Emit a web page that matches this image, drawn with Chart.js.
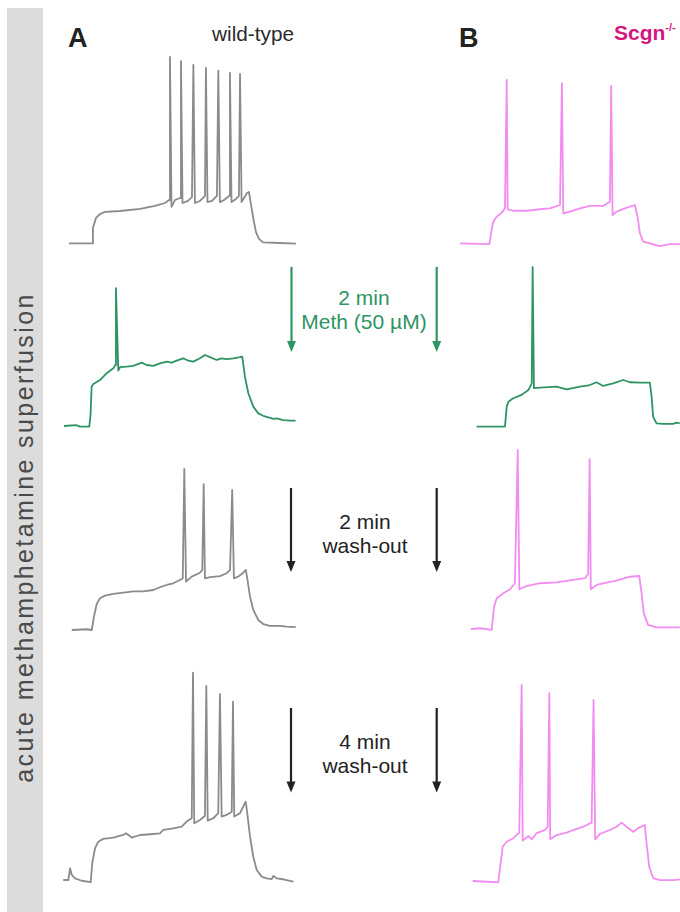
<!DOCTYPE html>
<html>
<head>
<meta charset="utf-8">
<script src="https://cdn.jsdelivr.net/npm/chart.js@4.4.1/dist/chart.umd.min.js"></script>
<style>
  body { margin: 0; width: 680px; height: 912px; position: relative; overflow: hidden; background: #fff;
         font-family: "Liberation Sans", Arial, Helvetica, sans-serif; }
  canvas.trace { position: absolute; }
  .lbl { position: absolute; white-space: nowrap; line-height: 1; }
  .step { position: absolute; width: 160px; text-align: center; color: #222; font-size: 21px; line-height: 24px; }
</style>
</head>
<body>
<div style="position:absolute;left:7px;top:8px;width:36px;height:904px;background:#dbdcdb"></div>
<div class="lbl" style="left:-226px;top:525px;width:500px;text-align:center;font-size:25px;letter-spacing:2.4px;color:#4a4a4a;transform:rotate(-90deg)">acute methamphetamine superfusion</div>

<div class="lbl" style="left:68px;top:24.6px;font-size:27px;font-weight:bold;color:#222">A</div>
<div class="lbl" style="left:212px;top:23.5px;font-size:20.8px;color:#2a2a2a">wild-type</div>
<div class="lbl" style="left:459px;top:24.6px;font-size:27px;font-weight:bold;color:#222">B</div>
<div class="lbl" style="left:614px;top:22.2px;font-size:21px;font-weight:bold;color:#d4177f">Scgn<span style="font-size:11px;position:relative;top:-9px">-/-</span></div>

<div class="step" style="left:284px;top:286px;color:#2e9463">2 min<br>Meth (50 µM)</div>
<div class="step" style="left:285px;top:510px">2 min<br>wash-out</div>
<div class="step" style="left:285px;top:730px">4 min<br>wash-out</div>

<svg width="680" height="912" style="position:absolute;left:0;top:0">
  <g id="arrows"></g>
</svg>

<script>
// membrane potential traces, time in ms from current step onset, potential in mV
const traceNames = ['A1', 'A2', 'A3', 'A4', 'B1', 'B2', 'B3', 'B4'];

const a1T = [-148, 0, 6, 26, 52, 84, 181, 310, 406, 471, 497, 503, 513, 535, 568, 574, 584, 619, 645, 654, 664, 697, 729, 735, 745, 774, 806, 815, 825, 852, 884, 890, 900, 929, 948, 955, 965, 981, 1000, 1013, 1026, 1045, 1058, 1077, 1103, 1213, 1316];
const a1V = [-70.2, -70.2, -61.9, -56.5, -54.4, -53.3, -52.8, -51.7, -50.1, -48.5, -46.9, 30.1, -50.6, -46.9, -45.8, 27.8, -48.5, -47.4, -45.3, 25.8, -48.5, -47.4, -44.7, 24.2, -48, -47.4, -44.7, 22.7, -48, -46.9, -44.7, 21.5, -48, -46.3, -44.7, 20.9, -48, -45.8, -43.1, -42.6, -49.6, -58.7, -64.1, -67.8, -69.7, -70, -70.3];

const a2T = [-163, -86, -60, 0, 8, 15, 26, 69, 112, 155, 168, 172, 187, 198, 241, 284, 338, 370, 413, 456, 499, 531, 564, 606, 639, 671, 714, 746, 778, 822, 854, 886, 929, 972, 987, 1004, 1026, 1058, 1090, 1122, 1144, 1187, 1209, 1251, 1295, 1331];
const a2V = [-70, -69.5, -70.3, -70.3, -64.1, -48.9, -47.4, -45.3, -41.6, -39, -37.2, 4.1, -40.2, -38.4, -38.1, -37.7, -35.9, -37.2, -37.7, -36.3, -35.4, -35.9, -34.9, -33.6, -34.9, -35.4, -33.6, -31.8, -33, -34.5, -33.6, -34.1, -33.6, -33, -32.7, -43.5, -52.4, -59.6, -63.2, -64.5, -65.1, -66.2, -65.9, -66.8, -67.1, -67.1];

const a3T = [-135, -39, -6, 8, 26, 47, 79, 133, 197, 262, 326, 391, 434, 477, 520, 563, 581, 591, 602, 639, 692, 707, 716, 724, 757, 821, 864, 886, 900, 911, 939, 971, 988, 997, 1015, 1036, 1068, 1100, 1143, 1208, 1251, 1310];
const a3V = [-70, -69.6, -70, -62.8, -56, -52.9, -51.5, -50.6, -49.9, -49.2, -49.2, -48.5, -47, -45.8, -44.9, -43.1, -42.2, 16.6, -44, -41.3, -39.2, -37.7, 8.4, -42.2, -41.6, -41, -39.5, -37.7, 5.3, -42.2, -41.3, -39.2, -37.7, -42.2, -52.1, -59.2, -64.6, -66.8, -67.8, -67.8, -68.2, -68.5];

const a4T = [-179, -146, -135, -124, -103, -60, -2, 8, 26, 47, 79, 144, 208, 226, 263, 316, 381, 445, 466, 531, 585, 617, 650, 658, 666, 703, 735, 744, 753, 789, 821, 832, 843, 875, 908, 916, 924, 961, 998, 1008, 1026, 1047, 1069, 1101, 1133, 1166, 1176, 1198, 1240, 1306];
const a4V = [-70, -70, -63.7, -67.3, -69.1, -70.4, -71.2, -61, -52.9, -49.4, -47.9, -47.2, -45.8, -44.9, -47.2, -45.8, -45.4, -44.9, -43.1, -42.2, -41.3, -38.6, -36.8, 41.5, -39.5, -37.7, -35.6, 34.4, -38.1, -36.8, -34.1, 29.9, -35.9, -35, -33.3, 25.9, -35.9, -34.1, -27.9, -34.1, -46.7, -57.5, -64.6, -68.2, -69.1, -69.5, -67.8, -69.1, -69.6, -70.9];

const b1T = [-203, -5, 11, 22, 45, 79, 101, 113, 119, 157, 248, 338, 405, 473, 486, 495, 540, 608, 675, 765, 810, 819, 828, 855, 911, 979, 997, 1013, 1035, 1080, 1148, 1215, 1283];
const b1V = [-70, -70.4, -62.8, -58.4, -55.7, -53.5, -51.2, 17.9, -51.7, -52.5, -52.5, -51.7, -51.2, -49.4, 16.1, -53.9, -53, -51.2, -49.9, -49.9, -47.6, 14.6, -54.8, -53, -51.2, -49.4, -55.7, -64.6, -69.1, -70, -71.5, -70.4, -70.4];

const b2T = [-196, -5, 7, 18, 51, 108, 153, 176, 182, 191, 232, 344, 412, 502, 569, 614, 659, 726, 794, 839, 907, 974, 986, 996, 1019, 1064, 1131, 1154, 1176];
const b2V = [-70, -70, -59.2, -56.6, -54.7, -52.9, -50.3, -46.7, 15.8, -49.3, -49, -48.5, -49.9, -48.5, -47.6, -46.1, -48.1, -46.7, -44.9, -46.1, -46.3, -46.3, -53.9, -64.6, -68.2, -68.5, -68.5, -67.8, -68.2];

const b3T = [-151, -90, -11, 5, 23, 68, 113, 146, 165, 176, 225, 315, 428, 540, 619, 641, 651, 659, 698, 765, 833, 923, 986, 1002, 1017, 1046, 1103, 1215, 1260];
const b3V = [-70, -69.6, -70.5, -58, -53.5, -50.8, -48.6, -45.4, 26.3, -48.6, -46.9, -45.4, -44.9, -43.6, -42.7, -40.4, 21.3, -48.6, -46.3, -45.1, -44, -41.9, -41.5, -50.8, -61.6, -67.8, -69.1, -69.1, -69.1];

const b4T = [-180, -85, -7, 9, 23, 50, 95, 135, 151, 158, 196, 219, 252, 308, 327, 338, 344, 387, 455, 500, 567, 624, 637, 648, 680, 747, 792, 826, 860, 905, 938, 983, 995, 1013, 1040, 1085, 1175, 1220];
const b4V = [-70, -70.4, -70.7, -60.5, -51.5, -48.9, -47, -44, 35.4, -48.3, -45.8, -47.6, -44.3, -42.6, -40.8, 31, -47.6, -45.3, -44, -42.6, -40.8, -38.6, 27.4, -47.6, -44.7, -42.6, -40.8, -38.6, -40.8, -43.5, -41.6, -39.9, -49.7, -62.3, -68.5, -69.5, -69.5, -69.1];

const GRAY = '#8b8b8b', GREEN = '#2e9463', PINK = '#f28cf0';

// where each trace sits on the page: step onset x, -70 mV baseline y, px per ms
const layout = {
    A1: { t: a1T, v: a1V, color: GRAY,  xOn: 92,    base: 243,   kx: 0.155 },
    A2: { t: a2T, v: a2V, color: GREEN, xOn: 89.3,  base: 426,   kx: 0.155 },
    A3: { t: a3T, v: a3V, color: GRAY,  xOn: 92.7,  base: 630,   kx: 0.155 },
    A4: { t: a4T, v: a4V, color: GRAY,  xOn: 91,    base: 880,   kx: 0.155 },
    B1: { t: b1T, v: b1V, color: PINK,  xOn: 490,   base: 243.3, kx: 0.148 },
    B2: { t: b2T, v: b2V, color: GREEN, xOn: 505.7, base: 426.7, kx: 0.148 },
    B3: { t: b3T, v: b3V, color: PINK,  xOn: 493.3, base: 629,   kx: 0.148 },
    B4: { t: b4T, v: b4V, color: PINK,  xOn: 499.3, base: 881,   kx: 0.148 }
};
const KY = 1.86; // px per mV

function drawTrace(name) {
    const L = layout[name];
    const left = Math.floor(L.xOn - 220 * L.kx);
    const W = Math.ceil(1570 * L.kx);
    const xMin = (left - L.xOn) / L.kx;
    const top = Math.floor(L.base - 125 * KY);
    const H = Math.ceil(140 * KY);
    const yMax = -70 + (L.base - top) / KY;

    const cv = document.createElement('canvas');
    cv.className = 'trace';
    cv.width = W; cv.height = H;
    cv.style.left = left + 'px';
    cv.style.top = top + 'px';
    document.body.appendChild(cv);

    new Chart(cv.getContext('2d'), {
        type: 'line',
        data: {
            datasets: [{
                data: L.t.map((t, i) => ({ x: t, y: L.v[i] })),
                borderColor: L.color,
                borderWidth: 1.8,
                borderJoinStyle: 'round',
                pointRadius: 0,
                tension: 0,
                fill: false
            }]
        },
        options: {
            responsive: false,
            animation: false,
            events: [],
            layout: { padding: 0 },
            scales: {
                x: { type: 'linear', display: false, min: xMin, max: xMin + W / L.kx },
                y: { type: 'linear', display: false, min: yMax - H / KY, max: yMax }
            },
            plugins: { legend: { display: false }, tooltip: { enabled: false } }
        }
    });
}
traceNames.forEach(drawTrace);

// arrows between the traces
const arrows = [
    { x: 291.5, y0: 267, y1: 352, color: GREEN },
    { x: 436.7, y0: 267, y1: 352, color: GREEN },
    { x: 291, y0: 488, y1: 572, color: '#222' },
    { x: 436.7, y0: 488, y1: 572, color: '#222' },
    { x: 291, y0: 708, y1: 792.5, color: '#222' },
    { x: 436.7, y0: 708, y1: 792.5, color: '#222' }
];
const g = document.getElementById('arrows');
arrows.forEach(a => {
    g.innerHTML += `<line x1="${a.x}" y1="${a.y0}" x2="${a.x}" y2="${a.y1 - 8}" stroke="${a.color}" stroke-width="2.2"/>` +
        `<polygon points="${a.x - 4.5},${a.y1 - 11} ${a.x + 4.5},${a.y1 - 11} ${a.x},${a.y1}" fill="${a.color}"/>`;
});
</script>
</body>
</html>
